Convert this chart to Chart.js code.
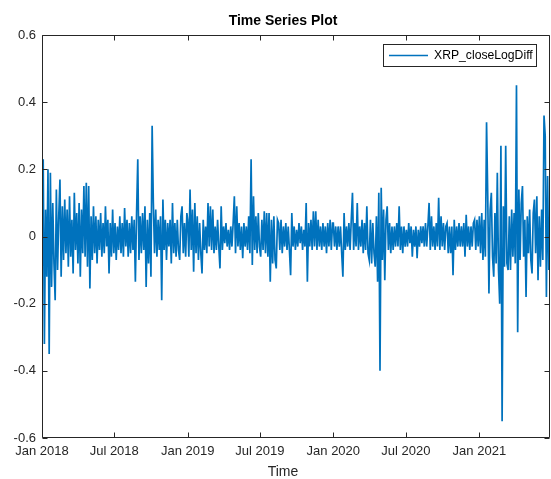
<!DOCTYPE html>
<html>
<head>
<meta charset="utf-8">
<title>Time Series Plot</title>
<script src="https://cdn.jsdelivr.net/npm/chart.js@4"></script>
<style>
  html, body { margin: 0; padding: 0; background: #fff; }
  canvas { display: block; }
</style>
</head>
<body>
<canvas id="myChart" width="551" height="479"></canvas>
<script>
// XRP close log-differences (one value every 3 days)
const xrp2018 = [0.12,0.23,-0.32,0.08,-0.12,0.2,-0.35,0.19,-0.15,0.1,-0.08,-0.19,0.14,-0.1,0.06,0.17,-0.12,0.09,-0.07,0.11,
  -0.05,0.08,-0.09,0.12,-0.06,0.05,-0.11,0.13,-0.04,0.07,-0.08,0.1,-0.12,0.08,-0.05,0.15,-0.06,0.16,-0.09,0.15,
  -0.155,0.06,-0.07,0.09,-0.05,0.06,-0.08,0.05,-0.04,0.07,-0.06,0.04,-0.05,0.09,-0.03,0.05,-0.11,0.04,-0.06,0.08,
  -0.05,0.04,-0.07,0.03,-0.04,0.06,-0.05,0.04,-0.06,0.085,-0.03,0.05,-0.06,0.04,-0.05,0.06,-0.04,0.05,-0.135,0.07,
  0.23,-0.07,0.06,-0.05,0.07,-0.04,0.09,-0.15,0.05,-0.08,0.07,-0.12,0.33,0.1,-0.05,0.08,-0.06,0.05,-0.04,0.06,
  -0.19,0.11,-0.04,0.05,-0.07,0.04,-0.03,0.05,-0.08,0.1,-0.05,0.04,-0.06,0.05,-0.04,-0.07,0.06,0.09,-0.05,0.04,
  -0.06,0.07];
const xrp2019 = [0.05,-0.06,0.14,-0.04,0.08,-0.105,0.1,-0.05,0.06,-0.07,0.04,-0.05,-0.11,0.05,-0.04,0.03,-0.05,0.1,-0.03,0.09,
  -0.04,0.08,-0.05,0.03,-0.04,0.05,-0.03,-0.095,0.09,-0.04,0.03,-0.02,0.04,-0.03,0.02,-0.04,0.03,-0.03,0.04,0.12,
  -0.05,0.09,-0.03,0.04,-0.04,0.03,-0.065,0.04,-0.03,0.03,-0.04,0.06,-0.05,0.23,-0.085,0.12,-0.04,0.06,-0.05,0.07,
  -0.03,-0.06,0.05,-0.04,0.075,-0.05,0.07,-0.06,0.07,-0.135,0.05,-0.08,0.06,-0.07,-0.095,0.05,0.04,-0.04,0.05,-0.05,
  0.03,-0.03,0.04,-0.04,0.03,-0.04,-0.115,0.07,-0.03,0.03,-0.04,0.02,-0.03,0.04,-0.02,0.03,-0.04,0.02,-0.03,0.1,
  -0.135,0.04,-0.03,0.05,-0.04,0.075,-0.03,0.075,-0.04,0.05,-0.03,0.03,-0.04,0.04,-0.03,0.03,-0.05,0.04,-0.03,0.05,
  -0.04,0.04];
const xrp2020 = [0.04,-0.03,0.03,-0.04,0.03,-0.03,0.03,-0.05,-0.12,0.07,-0.04,0.03,-0.03,0.04,-0.04,0.05,0.13,-0.04,0.04,-0.03,
  0.1,-0.04,0.03,-0.03,0.05,-0.05,0.04,-0.04,0.09,-0.05,-0.07,0.05,-0.08,0.04,-0.05,-0.09,0.06,-0.135,0.13,-0.40,
  0.145,-0.07,0.08,-0.13,0.05,0.09,-0.04,0.04,-0.05,0.03,-0.04,0.03,-0.03,0.04,-0.03,0.09,-0.04,0.03,-0.05,0.03,
  -0.03,0.02,-0.03,0.04,-0.02,0.03,-0.06,0.02,-0.03,0.03,-0.065,0.02,-0.03,0.03,-0.02,0.03,-0.03,0.04,-0.03,0.03,
  0.1,-0.04,0.06,-0.03,0.03,-0.04,0.04,-0.03,0.115,-0.04,0.06,-0.03,0.04,-0.04,0.03,0.04,-0.05,0.03,-0.05,0.03,
  -0.115,0.05,-0.04,0.03,-0.03,0.04,-0.03,0.03,-0.03,0.04,-0.06,0.065,-0.03,0.03,-0.04,0.03,-0.03,0.04,0.05,-0.04,
  0.05,-0.03];
const xrp2021 = [0.06,-0.05,0.07,-0.07,0.05,-0.06,0.34,0.12,-0.17,0.08,0.13,-0.06,-0.12,0.07,-0.08,0.19,-0.1,-0.2,0.27,-0.55,
  0.09,-0.09,0.27,-0.08,-0.1,0.06,-0.1,0.08,-0.06,0.07,-0.08,0.45,-0.285,0.14,-0.07,0.1,0.15,-0.06,0.05,-0.18,
  0.06,-0.05,0.08,-0.07,-0.11,0.07,0.11,-0.05,0.12,-0.13,0.06,-0.09,0.08,-0.07,0.36,0.3,-0.18,0.18,-0.1];

const yearStartDay = [0, 365, 730, 1096];   // days since 1 Jan 2018
const sampleStep = 3;                        // days between values

const tickDays = [0, 181, 365, 546, 730, 912, 1096];
const tickLabels = ['Jan 2018', 'Jul 2018', 'Jan 2019', 'Jul 2019', 'Jan 2020', 'Jul 2020', 'Jan 2021'];
const yTicks = [-0.6, -0.4, -0.2, 0, 0.2, 0.4, 0.6];

const seriesName = 'XRP_closeLogDiff';
const lineColor = '#0072BD';
const axisColor = '#262626';
const font = 'Liberation Sans, Arial, Helvetica, sans-serif';

var points = [];
[xrp2018, xrp2019, xrp2020, xrp2021].forEach((vals, k) => {
  vals.forEach((v, i) => points.push({ x: yearStartDay[k] + i * sampleStep, y: v }));
});

// MATLAB style box with inward ticks, title, legend and x label
const matlabAxes = {
  id: 'matlabAxes',
  afterDatasetsDraw(chart) {
    const { ctx, chartArea: a, scales } = chart;
    const L = Math.round(a.left) + 0.5, R = Math.round(a.right) - 0.5;
    const T = Math.round(a.top) + 0.5, B = Math.round(a.bottom) - 0.5;
    ctx.save();
    ctx.strokeStyle = axisColor;
    ctx.lineWidth = 1;
    ctx.beginPath();
    ctx.rect(L, T, R - L, B - T);
    tickDays.forEach(d => {
      const px = Math.round(scales.x.getPixelForValue(d)) + 0.5;
      ctx.moveTo(px, B); ctx.lineTo(px, B - 5);
      ctx.moveTo(px, T); ctx.lineTo(px, T + 5);
    });
    yTicks.forEach(v => {
      const py = Math.round(scales.y.getPixelForValue(v)) + 0.5;
      ctx.moveTo(L, py); ctx.lineTo(L + 5, py);
      ctx.moveTo(R, py); ctx.lineTo(R - 5, py);
    });
    ctx.stroke();

    // legend
    ctx.fillStyle = '#fff';
    ctx.fillRect(383, 44, 153, 22);
    ctx.strokeRect(383.5, 44.5, 153, 22);
    ctx.strokeStyle = lineColor;
    ctx.lineWidth = 1.5;
    ctx.beginPath();
    ctx.moveTo(389, 55.5); ctx.lineTo(428, 55.5);
    ctx.stroke();
    ctx.fillStyle = '#000';
    ctx.font = '12.2px ' + font;
    ctx.textBaseline = 'middle';
    ctx.textAlign = 'left';
    ctx.fillText(seriesName, 434, 56);

    // title and x label
    ctx.textAlign = 'center';
    ctx.font = 'bold 14px ' + font;
    ctx.fillText('Time Series Plot', 283, 21);
    ctx.fillStyle = axisColor;
    ctx.font = '14px ' + font;
    ctx.fillText('Time', 283, 472);
    ctx.restore();
  }
};

var ctx = document.getElementById('myChart').getContext('2d');
var chart = new Chart(ctx, {
  type: 'line',
  data: {
    datasets: [{
      label: seriesName,
      data: points,
      borderColor: lineColor,
      backgroundColor: lineColor,
      borderWidth: 1.7,
      pointRadius: 0,
      tension: 0,
      fill: false
    }]
  },
  options: {
    responsive: false,
    animation: false,
    devicePixelRatio: 1,
    layout: { padding: { left: 0, right: 1, top: 35, bottom: 0 } },
    plugins: {
      legend: { display: false },
      tooltip: { enabled: false },
      title: { display: false }
    },
    scales: {
      x: {
        type: 'linear',
        min: 0,
        max: 1273,
        afterBuildTicks: s => { s.ticks = tickDays.map(v => ({ value: v })); },
        afterFit: s => { s.height = 41; },
        grid: { display: false, drawTicks: false },
        border: { display: false },
        ticks: {
          autoSkip: false,
          maxRotation: 0,
          padding: 6,
          color: axisColor,
          font: { family: font, size: 13 },
          callback: v => tickLabels[tickDays.indexOf(v)]
        }
      },
      y: {
        min: -0.6,
        max: 0.6,
        afterBuildTicks: s => { s.ticks = yTicks.map(v => ({ value: v })); },
        afterFit: s => { s.width = 42; },
        grid: { display: false, drawTicks: false },
        border: { display: false },
        ticks: {
          padding: 6,
          color: axisColor,
          font: { family: font, size: 13 },
          callback: v => String(+v.toFixed(1))
        }
      }
    }
  },
  plugins: [matlabAxes]
});
</script>
</body>
</html>
